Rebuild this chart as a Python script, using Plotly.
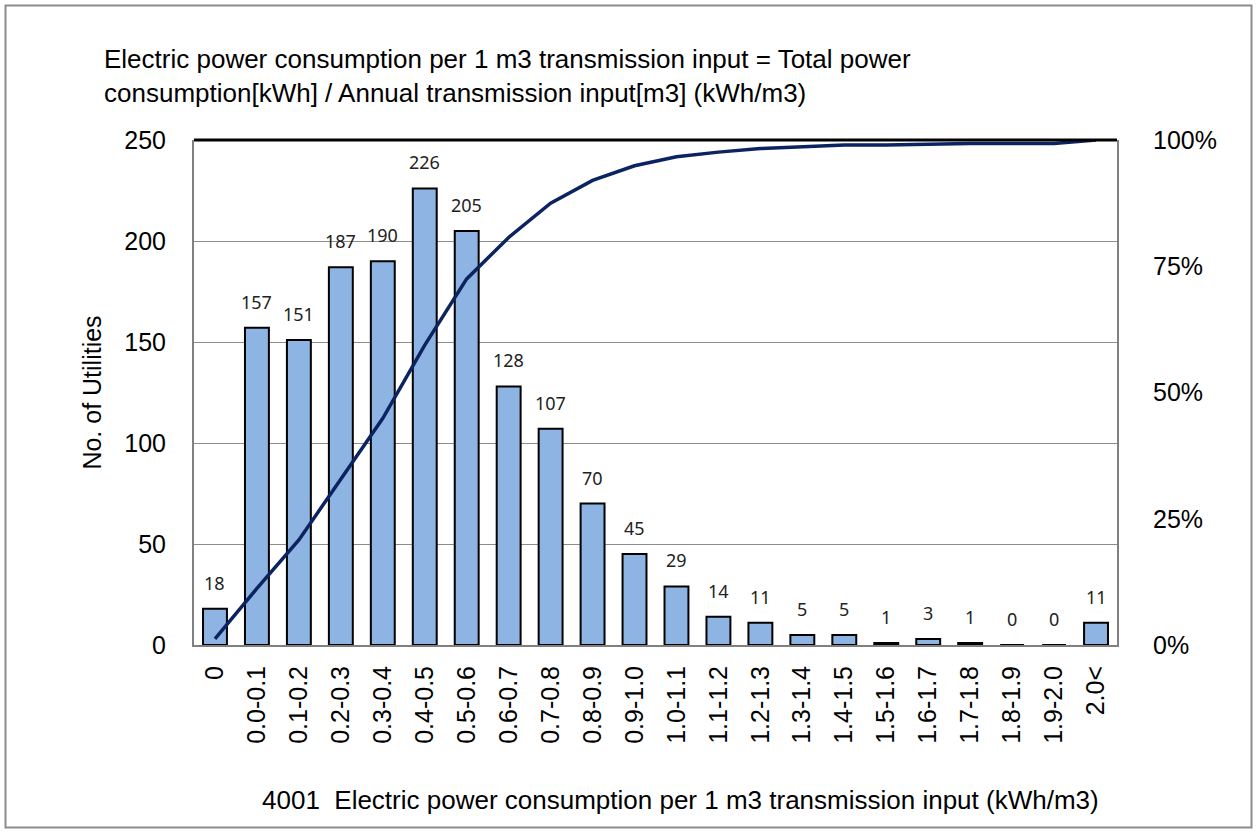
import plotly.graph_objects as go

categories = ["0", "0.0-0.1", "0.1-0.2", "0.2-0.3", "0.3-0.4", "0.4-0.5", "0.5-0.6",
              "0.6-0.7", "0.7-0.8", "0.8-0.9", "0.9-1.0", "1.0-1.1", "1.1-1.2", "1.2-1.3",
              "1.3-1.4", "1.4-1.5", "1.5-1.6", "1.6-1.7", "1.7-1.8", "1.8-1.9", "1.9-2.0", "2.0<"]
counts = [18, 157, 151, 187, 190, 226, 205, 128, 107, 70, 45, 29, 14, 11, 5, 5, 1, 3, 1, 0, 0, 11]
cumulative = [0.012, 0.112, 0.208, 0.328, 0.449, 0.594, 0.725, 0.807, 0.875, 0.920, 0.949,
              0.967, 0.976, 0.983, 0.987, 0.990, 0.990, 0.992, 0.993, 0.993, 0.993, 1.000]
left_ticks = [0, 50, 100, 150, 200, 250]
right_ticks = [0, 0.25, 0.5, 0.75, 1.0]
right_labels = ["0%", "25%", "50%", "75%", "100%"]

FONT = "Liberation Sans, Arial, sans-serif"

L, R, T, B = 194, 1117, 140, 645
W, H = 1257, 832

fig = go.Figure()
fig.add_trace(go.Bar(
    x=categories, y=counts,
    marker=dict(color="#8DB4E2", line=dict(color="black", width=2)),
    showlegend=False, hoverinfo="x+y",
))
fig.add_trace(go.Scatter(
    x=categories, y=cumulative, yaxis="y2", mode="lines",
    line=dict(color="#0B2461", width=3.5), showlegend=False, cliponaxis=False,
))

def px_x(p):
    return (p - L) / (R - L)

def px_y(p):
    return (B - p) / (B - T)

annotations = [
    dict(x=c, y=v, xref="x", yref="y", text=str(v), showarrow=False,
         yanchor="middle", yshift=26,
         font=dict(family="Noto Sans, sans-serif", size=18, color="#222"))
    for c, v in zip(categories, counts)
]
annotations += [
    dict(text="Electric power consumption per 1 m3 transmission input = Total power<br>"
              "consumption[kWh] / Annual transmission input[m3] (kWh/m3)",
         xref="paper", yref="paper", x=px_x(102), y=px_y(42), xanchor="left", yanchor="top",
         align="left", showarrow=False, font=dict(size=26)),
    dict(text="4001&nbsp;&nbsp;Electric power consumption per 1 m3 transmission input (kWh/m3)",
         xref="paper", yref="paper", x=px_x(680), y=px_y(800), xanchor="center", yanchor="middle",
         showarrow=False, font=dict(size=26)),
]

fig.update_layout(
    width=W, height=H,
    margin=dict(l=L, r=W - R, t=T, b=H - B),
    paper_bgcolor="white", plot_bgcolor="white",
    font=dict(family=FONT, size=25, color="black"),
    bargap=0.43,
    xaxis=dict(
        tickangle=-90, showgrid=False, showline=True, linecolor="#808080", linewidth=2,
        ticks="", tickfont=dict(size=25), ticklabelstandoff=9,
    ),
    yaxis=dict(
        range=[0, 250], tickvals=left_ticks, showgrid=True, gridcolor="#8c8c8c", gridwidth=1,
        showline=True, linecolor="#808080", linewidth=2, ticks="", zeroline=False,
        ticklabelstandoff=21, tickfont=dict(size=25),
        title=dict(text="No. of Utilities", font=dict(size=25), standoff=16),
    ),
    yaxis2=dict(
        range=[0, 1], overlaying="y", side="right", tickvals=right_ticks, ticktext=right_labels,
        showgrid=False, showline=True, linecolor="#808080", linewidth=2, ticks="",
        zeroline=False, ticklabelstandoff=29, tickfont=dict(size=25),
    ),
    shapes=[
        dict(type="rect", xref="paper", yref="paper",
             x0=px_x(5.5), x1=px_x(1251.5), y0=px_y(5.5), y1=px_y(827.5),
             line=dict(color="#8c8c8c", width=2), layer="below"),
        dict(type="line", xref="paper", yref="paper", x0=0, x1=1, y0=1, y1=1,
             line=dict(color="black", width=3)),
    ],
    annotations=annotations,
)

fig.write_html("out.html", config={"displayModeBar": False},
               post_script="document.body.style.margin='0';document.body.style.overflow='hidden';")
